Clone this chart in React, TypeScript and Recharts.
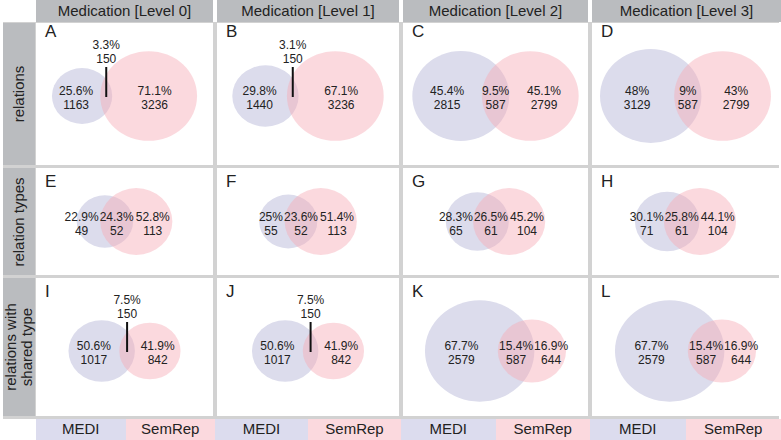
import React from "react";
import { ScatterChart, Scatter, XAxis, YAxis } from "recharts";

const FONT = "'Liberation Sans', Arial, Helvetica, sans-serif";

const columnTitles = [
  "Medication [Level 0]",
  "Medication [Level 1]",
  "Medication [Level 2]",
  "Medication [Level 3]",
];
const rowTitles = [["relations"], ["relation types"], ["relations with", "shared type"]];
const panelLetters = ["A", "B", "C", "D", "E", "F", "G", "H", "I", "J", "K", "L"];
const legendNames = ["MEDI", "SemRep"];

// counts per panel, row by row
const mediOnly = [1163, 1440, 2815, 3129, 49, 55, 65, 71, 1017, 1017, 2579, 2579];
const shared = [150, 150, 587, 587, 52, 52, 61, 61, 150, 150, 587, 587];
const semrepOnly = [3236, 3236, 2799, 2799, 113, 113, 104, 104, 842, 842, 644, 644];
const mediPct = ["25.6%", "29.8%", "45.4%", "48%", "22.9%", "25%", "28.3%", "30.1%", "50.6%", "50.6%", "67.7%", "67.7%"];
const sharedPct = ["3.3%", "3.1%", "9.5%", "9%", "24.3%", "23.6%", "26.5%", "25.8%", "7.5%", "7.5%", "15.4%", "15.4%"];
const semrepPct = ["71.1%", "67.1%", "45.1%", "43%", "52.8%", "51.4%", "45.2%", "44.1%", "41.9%", "41.9%", "16.9%", "16.9%"];

// layout
const COL_X = [36, 217, 403, 592];
const COL_W = [177, 182, 185, 187];
const ROW_Y = [23, 168, 278];
const ROW_H = [142, 107, 138];
const ROW_K = [0.77, 2.6, 0.9]; // px of radius per sqrt(count)
const ROW_DY = [2, 0, 4];
const LETTER_TOP = [23, 173, 283];
const STRETCH = 1.08;
const LABEL_SIZE = 12;
const LEGEND_EDGES = [36, 215, 401, 590, 781];

const MEDI_FILL = "#dcdcec";
const SEM_FILL = "#f6abb6";
const SEM_OPACITY = 0.45;
const MEDI_LEGEND = "#dcdcee";
const SEM_LEGEND = "#fbd9de";
const GRID_GRAY = "#d2d2d2";
const BOX_GRAY = "#babcbf";
const INK = "#222";

function lensArea(r1: number, r2: number, d: number) {
  if (d >= r1 + r2) return 0;
  if (d <= Math.abs(r1 - r2)) return Math.PI * Math.min(r1, r2) ** 2;
  const a1 = Math.acos((d * d + r1 * r1 - r2 * r2) / (2 * d * r1));
  const a2 = Math.acos((d * d + r2 * r2 - r1 * r1) / (2 * d * r2));
  const k = Math.sqrt((-d + r1 + r2) * (d + r1 - r2) * (d - r1 + r2) * (d + r1 + r2));
  return r1 * r1 * a1 + r2 * r2 * a2 - 0.5 * k;
}

// distance between centres so that the lens has the shared area
function centerDistance(r1: number, r2: number, target: number) {
  let lo = Math.abs(r1 - r2);
  let hi = r1 + r2;
  for (let i = 0; i < 60; i++) {
    const m = (lo + hi) / 2;
    if (lensArea(r1, r2, m) > target) lo = m;
    else hi = m;
  }
  return (lo + hi) / 2;
}

const textWidth = (s: string) =>
  [...s].reduce((t, ch) => t + (ch === "%" ? 0.889 : ch === "." ? 0.278 : 0.556), 0) * LABEL_SIZE;

function VennPanel({ i }: { i: number }) {
  const row = Math.floor(i / 4);
  const col = i % 4;
  const W = COL_W[col];
  const H = ROW_H[row];
  const r1 = Math.sqrt((mediOnly[i] + shared[i]) / Math.PI);
  const r2 = Math.sqrt((semrepOnly[i] + shared[i]) / Math.PI);
  const d = centerDistance(r1, r2, shared[i]);
  const sy = ROW_K[row] * Math.sqrt(Math.PI);
  const sx = sy * STRETCH;
  const mid = (d + r2 - r1) / 2;
  const xDomain = [mid - W / 2 / sx, mid + W / 2 / sx];
  const top = (H / 2 + ROW_DY[row]) / sy;
  const yDomain = [top - H / sy, top];

  const lensL = d - r2;
  const lensR = r1;
  const callout = (lensR - lensL) * sx < 20;
  const wA = Math.max(textWidth(mediPct[i]), textWidth(String(mediOnly[i])));
  const wC = Math.max(textWidth(sharedPct[i]), textWidth(String(shared[i])));
  const wB = Math.max(textWidth(semrepPct[i]), textWidth(String(semrepOnly[i])));
  let xA = (-r1 + lensL) / 2;
  const xC = (lensL + lensR) / 2;
  let xB = (lensR + d + r2) / 2;
  if (!callout) {
    xA = Math.min(xA, xC - (wC / 2 + 1 + wA / 2) / sx);
    xB = Math.max(xB, xC + (wC / 2 + 1 + wB / 2) / sx);
  }

  const mediCircle = [{ x: 0, y: 0, r: r1 }];
  const semCircle = [{ x: d, y: 0, r: r2 }];
  const labels = [
    { x: xA, y: 0, pct: mediPct[i], n: mediOnly[i], callout: false },
    { x: xC, y: 0, pct: sharedPct[i], n: shared[i], callout },
    { x: xB, y: 0, pct: semrepPct[i], n: semrepOnly[i], callout: false },
  ];

  const ellipse = (fill: string, opacity: number) => (p: any) => {
    const r = (p.payload ?? p).r;
    return <ellipse cx={p.cx} cy={p.cy} rx={r * sx} ry={r * sy} fill={fill} fillOpacity={opacity} />;
  };

  const labelShape = (p: any) => {
    const q = p.payload ?? p;
    const t = { textAnchor: "middle" as const, fontSize: LABEL_SIZE, fontFamily: FONT, fill: INK };
    if (q.callout) {
      return (
        <g>
          <line x1={p.cx} x2={p.cx} y1={p.cy + 1} y2={p.cy - 29} stroke="#111" strokeWidth={2} />
          <text x={p.cx} y={p.cy - 47} {...t}>{q.pct}</text>
          <text x={p.cx} y={p.cy - 33} {...t}>{q.n}</text>
        </g>
      );
    }
    return (
      <g>
        <text x={p.cx} y={p.cy - 1} {...t}>{q.pct}</text>
        <text x={p.cx} y={p.cy + 13} {...t}>{q.n}</text>
      </g>
    );
  };

  return (
    <ScatterChart width={W} height={H} margin={{ top: 0, right: 0, bottom: 0, left: 0 }}>
      <XAxis type="number" dataKey="x" domain={xDomain} hide allowDataOverflow />
      <YAxis type="number" dataKey="y" domain={yDomain} hide allowDataOverflow />
      <Scatter data={mediCircle} shape={ellipse(MEDI_FILL, 1)} isAnimationActive={false} />
      <Scatter data={semCircle} shape={ellipse(SEM_FILL, SEM_OPACITY)} isAnimationActive={false} />
      <Scatter data={labels} shape={labelShape} isAnimationActive={false} />
    </ScatterChart>
  );
}

export default function App() {
  const abs = (left: number, top: number, width: number, height: number): React.CSSProperties => ({
    position: "absolute",
    left,
    top,
    width,
    height,
  });
  return (
    <div
      style={{
        position: "absolute",
        left: 0,
        top: 0,
        width: 781,
        height: 440,
        background: "#fff",
        overflow: "hidden",
        fontFamily: FONT,
        color: INK,
      }}
    >
      <div style={{ ...abs(3, 22, 776, 397), background: GRID_GRAY }} />

      {columnTitles.map((t, c) => (
        <div
          key={t}
          style={{
            ...abs(COL_X[c], 0, c === 3 ? 189 : COL_W[c], 22),
            background: BOX_GRAY,
            fontSize: 15,
            lineHeight: "22px",
            textAlign: "center",
            whiteSpace: "nowrap",
          }}
        >
          {t}
        </div>
      ))}

      {rowTitles.map((lines, r) => (
        <div key={r} style={{ ...abs(3, ROW_Y[r], 32, ROW_H[r]), background: BOX_GRAY }}>
          <div
            style={{
              position: "absolute",
              left: "50%",
              top: "50%",
              transform: "translate(-50%, -50%) rotate(-90deg)",
              whiteSpace: "nowrap",
              textAlign: "center",
              fontSize: 15,
              lineHeight: "16px",
            }}
          >
            {lines.map((l) => (
              <div key={l}>{l}</div>
            ))}
          </div>
        </div>
      ))}

      {panelLetters.map((letter, i) => {
        const row = Math.floor(i / 4);
        const col = i % 4;
        return (
          <div key={letter} style={{ ...abs(COL_X[col], ROW_Y[row], COL_W[col], ROW_H[row]), background: "#fff" }}>
            <VennPanel i={i} />
          </div>
        );
      })}

      {panelLetters.map((letter, i) => {
        const row = Math.floor(i / 4);
        const col = i % 4;
        return (
          <div
            key={"l" + letter}
            style={{ position: "absolute", left: COL_X[col] + 9, top: LETTER_TOP[row], fontSize: 17, lineHeight: "17px" }}
          >
            {letter}
          </div>
        );
      })}

      {columnTitles.map((t, c) => {
        const left = LEGEND_EDGES[c];
        const right = LEGEND_EDGES[c + 1];
        const half = (right - left) / 2;
        return legendNames.map((name, k) => (
          <div
            key={t + name}
            style={{
              ...abs(left + k * half, 419, half, 21),
              background: k === 0 ? MEDI_LEGEND : SEM_LEGEND,
              fontSize: 15,
              lineHeight: "20px",
              textAlign: "center",
            }}
          >
            {name}
          </div>
        ));
      })}
    </div>
  );
}
